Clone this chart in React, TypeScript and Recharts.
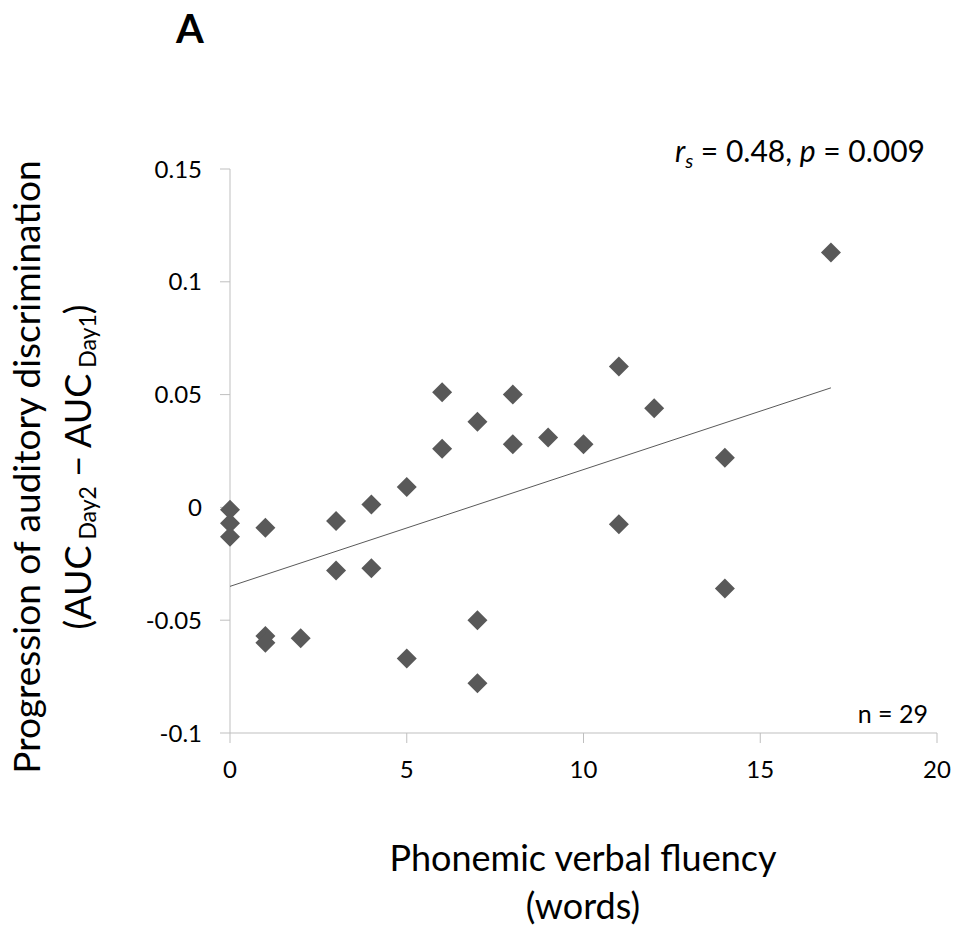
import { ScatterChart, Scatter, XAxis, YAxis } from "recharts";

// phonemic verbal fluency (words) per participant
const fluency = [0, 0, 0, 1, 1, 1, 2, 3, 3, 4, 4, 5, 5, 6, 6, 7, 7, 7, 8, 8, 9, 10, 11, 11, 12, 14, 14, 17];
// AUC Day2 - AUC Day1
const aucGain = [
  -0.001, -0.007, -0.013, -0.009, -0.057, -0.06, -0.058, -0.006, -0.028, 0.0013, -0.027, 0.009, -0.067,
  0.051, 0.026, 0.038, -0.05, -0.078, 0.05, 0.028, 0.031, 0.028, 0.0625, -0.0075, 0.044, 0.022, -0.036, 0.113,
];
// linear fit, end points
const fitX = [0, 17];
const fitY = [-0.035, 0.053];

const xTicks = [0, 5, 10, 15, 20];
const yTicks = [-0.1, -0.05, 0, 0.05, 0.1, 0.15];

const points = fluency.map((x, i) => ({ x, y: aucGain[i] }));
const fit = fitX.map((x, i) => ({ x, y: fitY[i] }));

const FONT = "Lato, 'Open Sans', sans-serif";
const AXIS = "#bfbfbf";
const MARK = "#595959";

const Diamond = (props: any) => {
  const { cx, cy } = props;
  const r = 10;
  return <path d={`M${cx},${cy - r}L${cx + r},${cy}L${cx},${cy + r}L${cx - r},${cy}Z`} fill={MARK} />;
};

export default function App() {
  return (
    <div style={{ position: "absolute", left: 0, top: 0, width: 955, height: 931, background: "#fff", fontFamily: FONT }}>
      <ScatterChart width={955} height={931} margin={{ top: 169, right: 18, bottom: 138, left: 0 }}>
        <XAxis
          type="number"
          dataKey="x"
          domain={[0, 20]}
          ticks={xTicks}
          height={60}
          stroke={AXIS}
          tickSize={10}
          tickMargin={18}
          tick={{ fontSize: 24, fill: "#000", fontFamily: FONT }}
        />
        <YAxis
          type="number"
          dataKey="y"
          domain={[-0.1, 0.15]}
          ticks={yTicks}
          width={230}
          stroke={AXIS}
          tickSize={10}
          tickMargin={18}
          tick={{ fontSize: 24, fill: "#000", fontFamily: FONT }}
        />
        <Scatter data={fit} line={{ stroke: MARK, strokeWidth: 1 }} lineType="joint" shape={() => <g />} isAnimationActive={false} />
        <Scatter data={points} shape={<Diamond />} isAnimationActive={false} />
      </ScatterChart>
      <svg width={955} height={931} style={{ position: "absolute", left: 0, top: 0, pointerEvents: "none" }} fontFamily={FONT}>
        <text x={190} y={43} textAnchor="middle" fontSize={40} fontWeight="bold">A</text>
        <text x={925} y={162} textAnchor="end" fontSize={30}>
          <tspan fontStyle="italic">r</tspan>
          <tspan fontStyle="italic" fontSize={20} dy={6}>s</tspan>
          <tspan dy={-6}> = 0.48, </tspan>
          <tspan fontStyle="italic">p</tspan>
          <tspan> = 0.009</tspan>
        </text>
        <text x={928} y={723} textAnchor="end" fontSize={25}>n = 29</text>
        <text x={583} y={871} textAnchor="middle" fontSize={36}>Phonemic verbal fluency</text>
        <text x={583} y={919} textAnchor="middle" fontSize={36}>(words)</text>
        <g transform="translate(40,467) rotate(-90)">
          <text x={0} y={0} textAnchor="middle" fontSize={37}>Progression of auditory discrimination</text>
        </g>
        <g transform="translate(91,467) rotate(-90)">
          <text x={0} y={0} textAnchor="middle" fontSize={36}>
            (AUC<tspan fontSize={23} dy={5}> Day2</tspan>
            <tspan dy={-5}> − AUC</tspan>
            <tspan fontSize={23} dy={5}> Day1</tspan>
            <tspan dy={-5}>)</tspan>
          </text>
        </g>
      </svg>
    </div>
  );
}
